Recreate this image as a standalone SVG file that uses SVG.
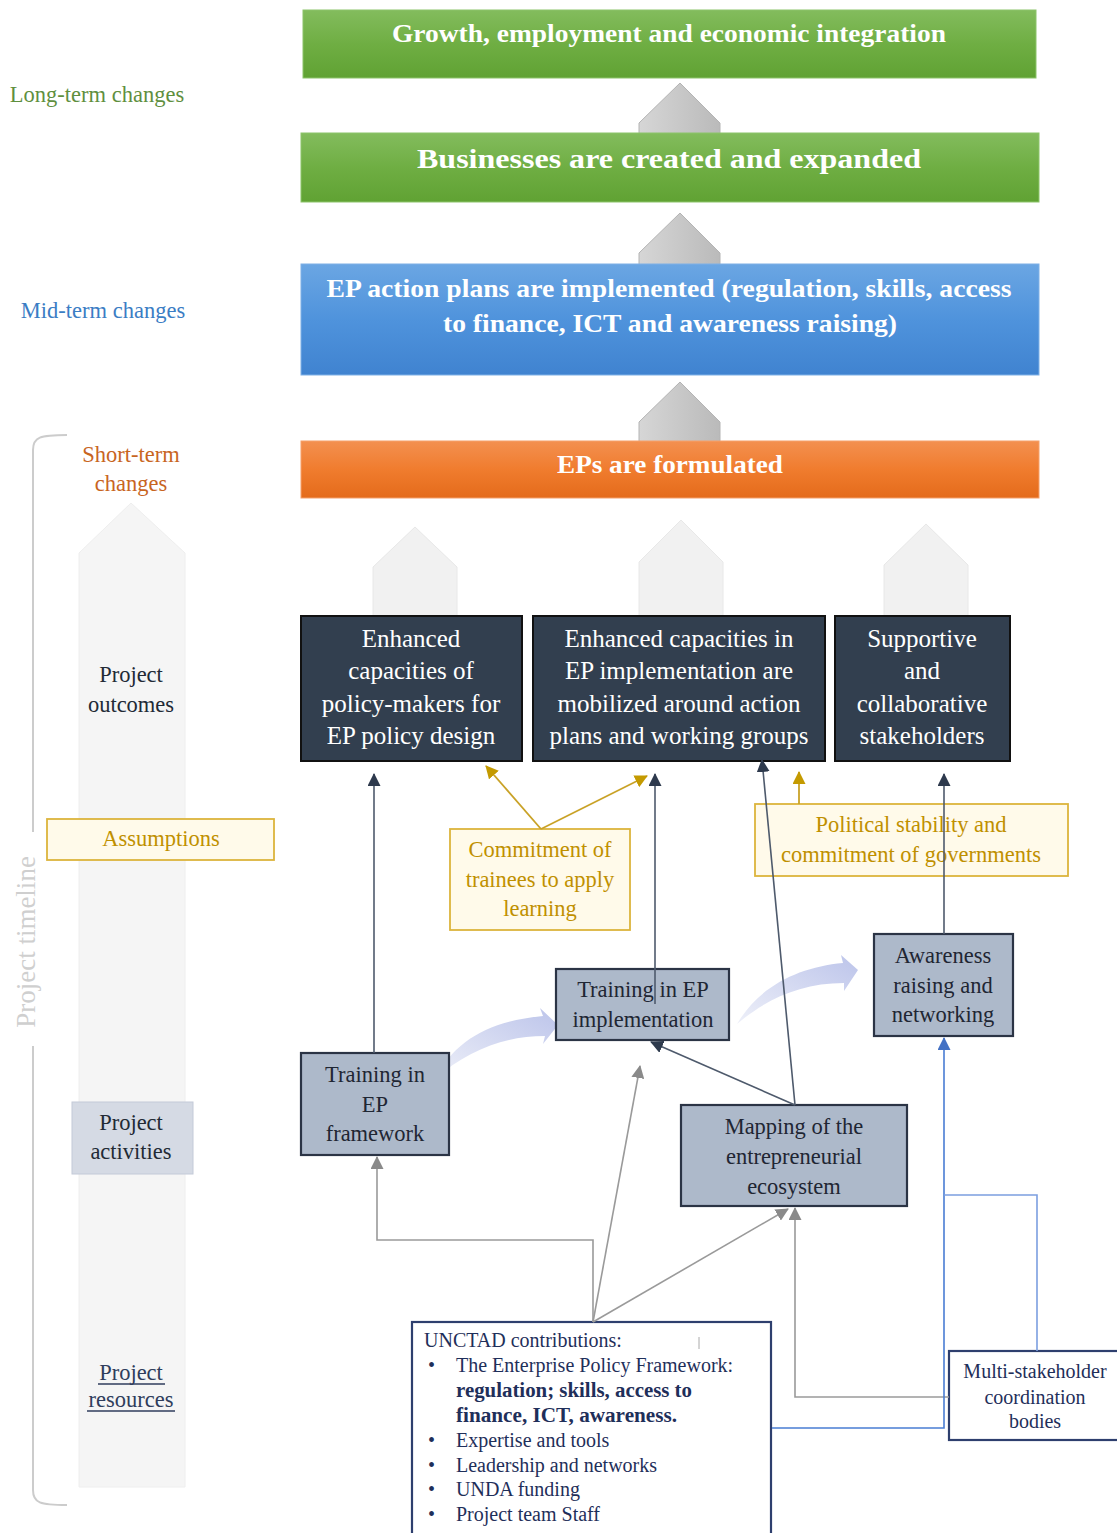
<svg xmlns="http://www.w3.org/2000/svg" width="1117" height="1533" viewBox="0 0 1117 1533">
<style>
text{font-family:"Liberation Serif","Times New Roman",serif}
.title{font-weight:bold;fill:#fff;text-anchor:middle}
.out{fill:#fff;font-size:25px;text-anchor:middle}
.act{fill:#1f2633;font-size:22.5px;text-anchor:middle}
.lab{font-size:22.5px;text-anchor:middle}
.assum{fill:#bf9000;font-size:22.5px;text-anchor:middle}
.res{fill:#1f2f5a;font-size:20px}
.outbox{fill:#323f4f;stroke:#111;stroke-width:2}
.actbox{fill:#adb9ca;stroke:#2b3445;stroke-width:2.2}
.ybox{fill:#fffaea;stroke:#dcb43c;stroke-width:1.8}
.garrow{fill:url(#gGray);stroke:#b4b4b4;stroke-width:1}
.farrow{fill:#f1f1f1;stroke:#e8e8e8;stroke-width:1}
.cdark{stroke:#4e5a6c;stroke-width:1.6;fill:none;marker-end:url(#mDark)}
.cgold{stroke:#c9a227;stroke-width:1.8;fill:none;marker-end:url(#mGold)}
.cgray{stroke:#9a9a9a;stroke-width:1.6;fill:none;marker-end:url(#mGray)}
.cblue{stroke:#4a7dd4;stroke-width:1.6;fill:none}
</style>
<defs>
<linearGradient id="gGreen" x1="0" y1="0" x2="0" y2="1"><stop offset="0" stop-color="#83bc5d"/><stop offset="0.5" stop-color="#6fae43"/><stop offset="1" stop-color="#60a233"/></linearGradient>
<linearGradient id="gBlue" x1="0" y1="0" x2="0" y2="1"><stop offset="0" stop-color="#6ba6e3"/><stop offset="0.5" stop-color="#4f93dc"/><stop offset="1" stop-color="#4083d0"/></linearGradient>
<linearGradient id="gOrange" x1="0" y1="0" x2="0" y2="1"><stop offset="0" stop-color="#f39050"/><stop offset="0.5" stop-color="#f07c2e"/><stop offset="1" stop-color="#e46b1b"/></linearGradient>
<linearGradient id="gGray" x1="0" y1="0" x2="1" y2="0"><stop offset="0" stop-color="#d6d6d6"/><stop offset="1" stop-color="#bababa"/></linearGradient>
<linearGradient id="gCurve" x1="0" y1="1" x2="1" y2="0"><stop offset="0" stop-color="#eef0f9"/><stop offset="1" stop-color="#bcc4ea"/></linearGradient>
<marker id="mDark" viewBox="0 0 13 13" refX="12" refY="6.5" markerWidth="13" markerHeight="13" markerUnits="userSpaceOnUse" orient="auto"><path d="M0,0 L13,6.5 L0,13 z" fill="#2e3a4d"/></marker>
<marker id="mGold" viewBox="0 0 13 13" refX="12" refY="6.5" markerWidth="13" markerHeight="13" markerUnits="userSpaceOnUse" orient="auto"><path d="M0,0 L13,6.5 L0,13 z" fill="#c49a00"/></marker>
<marker id="mGray" viewBox="0 0 13 13" refX="12" refY="6.5" markerWidth="13" markerHeight="13" markerUnits="userSpaceOnUse" orient="auto"><path d="M0,0 L13,6.5 L0,13 z" fill="#8a8a8a"/></marker>
<marker id="mBlue" viewBox="0 0 13 13" refX="12" refY="6.5" markerWidth="13" markerHeight="13" markerUnits="userSpaceOnUse" orient="auto"><path d="M0,0 L13,6.5 L0,13 z" fill="#4472c4"/></marker>
</defs>
<rect width="1117" height="1533" fill="#fff"/>

<!-- left timeline column -->
<g id="timeline">
<polygon class="farrow" points="79,1487 79,553 131,503 185,553 185,1487" style="fill:#f5f5f5;stroke:#eeeeee"/>
<path d="M67,435 C40,435 33,437 33,450 L33,832 M33,1046 L33,1490 C33,1503 40,1505 67,1505" fill="none" stroke="#cccccc" stroke-width="2"/>
<text transform="translate(35,942) rotate(-90)" text-anchor="middle" font-size="27" fill="#cfcfcf">Project timeline</text>
</g>

<g id="label-long"><text x="97" y="102" class="lab" fill="#5f8f3e">Long-term changes</text></g>
<g id="label-mid"><text x="103" y="318" class="lab" fill="#3b7dc4">Mid-term changes</text></g>
<g id="label-short"><text x="131" y="462" class="lab" fill="#c8651f">Short-term</text><text x="131" y="491" class="lab" fill="#c8651f">changes</text></g>
<g id="label-outcomes"><text x="131" y="682" class="lab" fill="#222a35">Project</text><text x="131" y="712" class="lab" fill="#222a35">outcomes</text></g>
<g id="label-assumptions"><rect x="47" y="819" width="227" height="41" class="ybox"/><text x="161" y="846" class="assum">Assumptions</text></g>
<g id="label-activities"><rect x="72" y="1102" width="121" height="72" fill="#d5dae4" stroke="#c3cad8" stroke-width="1"/><text x="131" y="1130" class="lab" fill="#222a35">Project</text><text x="131" y="1159" class="lab" fill="#222a35">activities</text></g>
<g id="label-resources"><text x="131" y="1380" class="lab" fill="#2f3d5c">Project</text><text x="131" y="1407" class="lab" fill="#2f3d5c">resources</text>
<line x1="98" y1="1384" x2="165" y2="1384" stroke="#2f3d5c" stroke-width="1.3"/><line x1="87" y1="1411" x2="175" y2="1411" stroke="#2f3d5c" stroke-width="1.3"/></g>

<!-- big gray arrows -->
<g id="up-arrows">
<polygon class="garrow" points="639,134 639,123 680,83 720,123 720,134"/>
<polygon class="garrow" points="639,265 639,253 680,213 720,253 720,265"/>
<polygon class="garrow" points="639,442 639,422 680,382 720,422 720,442"/>
<polygon class="farrow" points="373,617 373,567 415,527 457,567 457,617"/>
<polygon class="farrow" points="639,617 639,562 681,520 723,562 723,617"/>
<polygon class="farrow" points="884,617 884,565 926,524 968,565 968,617"/>
</g>

<g id="n-growth"><rect x="303" y="10" width="733" height="68" fill="url(#gGreen)" stroke="#8cc46a" stroke-width="1"/>
<text x="669" y="42" class="title" font-size="26" textLength="554" lengthAdjust="spacingAndGlyphs">Growth, employment and economic integration</text></g>
<g id="n-business"><rect x="301" y="133" width="738" height="69" fill="url(#gGreen)" stroke="#8cc46a" stroke-width="1"/>
<text x="669" y="168" class="title" font-size="28" textLength="504" lengthAdjust="spacingAndGlyphs">Businesses are created and expanded</text></g>
<g id="n-actionplans"><rect x="301" y="264" width="738" height="111" fill="url(#gBlue)" stroke="#7fb0e6" stroke-width="1"/>
<text x="669" y="297" class="title" font-size="26" textLength="685" lengthAdjust="spacingAndGlyphs">EP action plans are implemented (regulation, skills, access</text>
<text x="670" y="332" class="title" font-size="26" textLength="454" lengthAdjust="spacingAndGlyphs">to finance, ICT and awareness raising)</text></g>
<g id="n-formulated"><rect x="301" y="441" width="738" height="57" fill="url(#gOrange)" stroke="#f5a06a" stroke-width="1"/>
<text x="670" y="473" class="title" font-size="25" textLength="226" lengthAdjust="spacingAndGlyphs">EPs are formulated</text></g>

<!-- outcomes -->
<g id="n-outcome1"><rect x="301" y="616" width="221" height="145" class="outbox"/>
<text x="411" y="647" class="out">Enhanced</text><text x="411" y="679" class="out">capacities of</text><text x="411" y="712" class="out">policy-makers for</text><text x="411" y="744" class="out">EP policy design</text></g>
<g id="n-outcome2"><rect x="533" y="616" width="292" height="145" class="outbox"/>
<text x="679" y="647" class="out">Enhanced capacities in</text><text x="679" y="679" class="out">EP implementation are</text><text x="679" y="712" class="out">mobilized around action</text><text x="679" y="744" class="out">plans and working groups</text></g>
<g id="n-outcome3"><rect x="835" y="616" width="175" height="145" class="outbox"/>
<text x="922" y="647" class="out">Supportive</text><text x="922" y="679" class="out">and</text><text x="922" y="712" class="out">collaborative</text><text x="922" y="744" class="out">stakeholders</text></g>

<!-- assumptions -->
<g id="n-commitment"><rect x="450" y="829" width="180" height="101" class="ybox"/>
<text x="540" y="857" class="assum">Commitment of</text><text x="540" y="887" class="assum">trainees to apply</text><text x="540" y="916" class="assum">learning</text></g>
<g id="n-political"><rect x="755" y="804" width="313" height="72" class="ybox"/>
<text x="911" y="832" class="assum">Political stability and</text><text x="911" y="862" class="assum">commitment of governments</text></g>

<!-- curved flow arrows -->
<g id="flow-arrows">
<path d="M435,1079 C455,1040 490,1021 543,1016 L540,1008 L558,1025 L543,1044 L545,1036 C505,1036 468,1050 435,1079 Z" fill="url(#gCurve)"/>
<path d="M737,1024 C760,985 800,967 843,963 L841,955 L858,970 L844,991 L844,983 C800,983 765,1000 737,1024 Z" fill="url(#gCurve)"/>
</g>

<!-- activities -->
<g id="n-train-framework"><rect x="301" y="1053" width="148" height="102" class="actbox"/>
<text x="375" y="1082" class="act">Training in</text><text x="375" y="1112" class="act">EP</text><text x="375" y="1141" class="act">framework</text></g>
<g id="n-train-impl"><rect x="556" y="969" width="173" height="71" class="actbox"/>
<text x="643" y="997" class="act">Training in EP</text><text x="643" y="1027" class="act">implementation</text></g>
<g id="n-awareness"><rect x="874" y="934" width="139" height="102" class="actbox"/>
<text x="943" y="963" class="act">Awareness</text><text x="943" y="993" class="act">raising and</text><text x="943" y="1022" class="act">networking</text></g>
<g id="n-mapping"><rect x="681" y="1105" width="226" height="101" class="actbox"/>
<text x="794" y="1134" class="act">Mapping of the</text><text x="794" y="1164" class="act">entrepreneurial</text><text x="794" y="1194" class="act">ecosystem</text></g>

<!-- resources -->
<g id="n-unctad"><rect x="412" y="1322" width="359" height="220" fill="#fff" stroke="#2e3f6e" stroke-width="2.2"/>
<text x="424" y="1347" class="res">UNCTAD contributions:</text>
<line x1="699" y1="1337" x2="699" y2="1349" stroke="#aaa" stroke-width="1"/>
<text x="428" y="1372" class="res">•</text><text x="456" y="1372" class="res">The Enterprise Policy Framework:</text>
<text x="456" y="1397" class="res" font-weight="bold" textLength="236" lengthAdjust="spacingAndGlyphs">regulation; skills, access to</text>
<text x="456" y="1422" class="res" font-weight="bold" textLength="221" lengthAdjust="spacingAndGlyphs">finance, ICT, awareness.</text>
<text x="428" y="1447" class="res">•</text><text x="456" y="1447" class="res">Expertise and tools</text>
<text x="428" y="1472" class="res">•</text><text x="456" y="1472" class="res">Leadership and networks</text>
<text x="428" y="1496" class="res">•</text><text x="456" y="1496" class="res">UNDA funding</text>
<text x="428" y="1521" class="res">•</text><text x="456" y="1521" class="res">Project team Staff</text></g>
<g id="n-multi"><rect x="949" y="1351" width="175" height="89" fill="#fff" stroke="#2e3f6e" stroke-width="2.2"/>
<text x="1035" y="1378" class="res" text-anchor="middle">Multi-stakeholder</text><text x="1035" y="1404" class="res" text-anchor="middle">coordination</text><text x="1035" y="1428" class="res" text-anchor="middle">bodies</text></g>

<!-- connectors -->
<g id="connectors">
<path class="cdark" d="M374,1053 L374,774"/>
<path class="cdark" d="M655,1004 L655,774"/>
<path class="cdark" d="M944,934 L944,774"/>
<path class="cdark" d="M795,1105 L651,1042"/>
<path class="cdark" d="M795,1105 L762,760"/>
<path class="cgold" d="M541,829 L486,766"/>
<path class="cgold" d="M541,829 L647,776"/>
<path class="cgold" d="M799,804 L799,772"/>
<path class="cgray" d="M593,1322 L593,1240 L377,1240 L377,1157"/>
<path class="cgray" d="M593,1322 L640,1066"/>
<path class="cgray" d="M593,1322 L788,1209"/>
<path class="cgray" d="M949,1397 L795,1397 L795,1208"/>
<path class="cblue" d="M772,1428 L944,1428 L944,1038" marker-end="url(#mBlue)"/>
<path class="cblue" d="M1037,1351 L1037,1195 L944,1195" style="stroke:#7c9fe0"/>
</g>
</svg>
